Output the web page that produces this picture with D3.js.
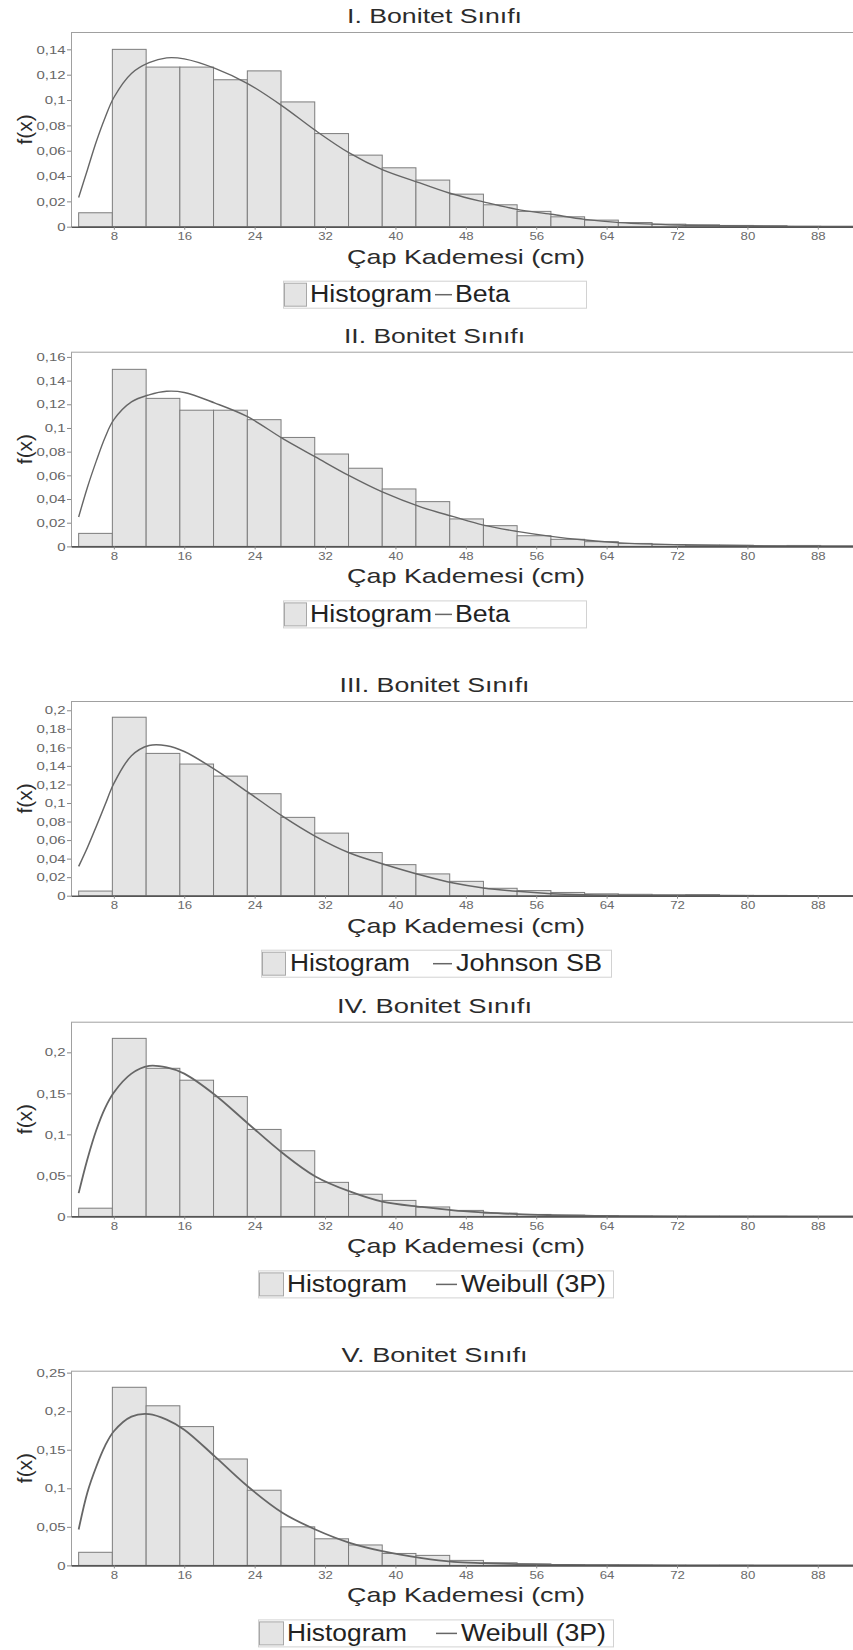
<!DOCTYPE html>
<html>
<head>
<meta charset="utf-8">
<script src="https://cdn.jsdelivr.net/npm/d3@7"></script>
<style>
  body { margin: 0; background: #fff; }
  svg { display: block; font-family: "Liberation Sans", Arial, sans-serif; }
</style>
</head>
<body>
<div id="chart"></div>
<script>
// Histogram class edges (cm), same for all five site classes
const binEdges = [4, 7.83, 11.67, 15.5, 19.33, 23.17, 27, 30.83, 34.67, 38.5, 42.33, 46.17,
  50, 53.83, 57.67, 61.5, 65.33, 69.17, 73, 76.83, 80.67, 84.5, 88.33, 92.17];

// Relative frequencies
const hist1 = [0.011, 0.140, 0.126, 0.126, 0.116, 0.123, 0.0985, 0.0735, 0.0565, 0.0465, 0.0368, 0.0257,
  0.0173, 0.0121, 0.0078, 0.0052, 0.0033, 0.002, 0.0015, 0.001, 0.0008, 0.0003, 0.0002];
const hist2 = [0.011, 0.1495, 0.125, 0.115, 0.115, 0.107, 0.092, 0.078, 0.066, 0.0485, 0.0378, 0.0232,
  0.0175, 0.009, 0.006, 0.004, 0.0025, 0.0015, 0.001, 0.001, 0.0006, 0.0008, 0.0004];
const hist3 = [0.005, 0.1925, 0.1535, 0.142, 0.129, 0.110, 0.0845, 0.0675, 0.0465, 0.0335, 0.0235, 0.0155,
  0.008, 0.0055, 0.0035, 0.002, 0.0015, 0.001, 0.0012, 0.0004, 0.0003, 0.0002, 0.0001];
const hist4 = [0.010, 0.217, 0.1805, 0.166, 0.146, 0.106, 0.080, 0.0415, 0.027, 0.0195, 0.0115, 0.0073,
  0.004, 0.0024, 0.0015, 0.001, 0.0005, 0.0003, 0.0002, 0.0001, 0.0001, 0, 0];
const hist5 = [0.017, 0.231, 0.207, 0.180, 0.138, 0.0975, 0.050, 0.0345, 0.0265, 0.0155, 0.013, 0.0065,
  0.0034, 0.002, 0.001, 0.0006, 0.0004, 0.0002, 0.0001, 0.0001, 0, 0, 0];

// Fitted density, sampled at these diameters
const curveX = [4, 5, 6, 7, 8, 10, 12, 14, 16, 19.5, 23.2, 27.2, 30.9, 34.8, 38.5, 43, 46.6, 50,
  53.8, 57.7, 61.5, 65.5, 72.3, 80.6, 92];
const curve1 = [0.023, 0.045, 0.067, 0.086, 0.102, 0.121, 0.1295, 0.1333, 0.1325, 0.125, 0.113, 0.095,
  0.076, 0.058, 0.045, 0.034, 0.0256, 0.0196, 0.0137, 0.0098, 0.0058, 0.0032, 0.0013, 0.0005, 0.0001];
const curve2 = [0.0248, 0.050, 0.072, 0.092, 0.107, 0.122, 0.128, 0.131, 0.130, 0.121, 0.1095, 0.091,
  0.0756, 0.0595, 0.046, 0.033, 0.0251, 0.018, 0.0127, 0.0085, 0.0054, 0.003, 0.0014, 0.0005, 0.0001];
const curve3 = [0.0316, 0.052, 0.0747, 0.098, 0.121, 0.151, 0.162, 0.1618, 0.1555, 0.136, 0.112, 0.0855,
  0.064, 0.046, 0.0345, 0.022, 0.0136, 0.0083, 0.0047, 0.0022, 0.001, 0.0004, 0.0001, 0, 0];
const curve4 = [0.0284, 0.070, 0.105, 0.132, 0.151, 0.174, 0.1834, 0.1815, 0.174, 0.148, 0.1136, 0.077,
  0.0487, 0.0304, 0.018, 0.0115, 0.0073, 0.0049, 0.0028, 0.0016, 0.0008, 0.0004, 0.0001, 0, 0];
const curve5 = [0.0466, 0.095, 0.128, 0.155, 0.174, 0.193, 0.1962, 0.189, 0.176, 0.141, 0.1026, 0.068,
  0.0466, 0.0293, 0.0185, 0.0095, 0.0047, 0.003, 0.0017, 0.0008, 0.0004, 0.0002, 0.0001, 0, 0];

const titles = ["I. Bonitet Sınıfı", "II. Bonitet Sınıfı", "III. Bonitet Sınıfı",
  "IV. Bonitet Sınıfı", "V. Bonitet Sınıfı"];
const fitNames = ["Beta", "Beta", "Johnson SB", "Weibull (3P)", "Weibull (3P)"];

const xTicks = [8, 16, 24, 32, 40, 48, 56, 64, 72, 80, 88];
const xTickLabels = ["8", "16", "24", "32", "40", "48", "56", "64", "72", "80", "88"];
const yTicks1 = [0, 0.02, 0.04, 0.06, 0.08, 0.1, 0.12, 0.14];
const yLabels1 = ["0", "0,02", "0,04", "0,06", "0,08", "0,1", "0,12", "0,14"];
const yTicks2 = [0, 0.02, 0.04, 0.06, 0.08, 0.1, 0.12, 0.14, 0.16];
const yLabels2 = ["0", "0,02", "0,04", "0,06", "0,08", "0,1", "0,12", "0,14", "0,16"];
const yTicks3 = [0, 0.02, 0.04, 0.06, 0.08, 0.1, 0.12, 0.14, 0.16, 0.18, 0.2];
const yLabels3 = ["0", "0,02", "0,04", "0,06", "0,08", "0,1", "0,12", "0,14", "0,16", "0,18", "0,2"];
const yTicks4 = [0, 0.05, 0.1, 0.15, 0.2];
const yLabels4 = ["0", "0,05", "0,1", "0,15", "0,2"];
const yTicks5 = [0, 0.05, 0.1, 0.15, 0.2, 0.25];
const yLabels5 = ["0", "0,05", "0,1", "0,15", "0,2", "0,25"];
const yMax = [0.1537, 0.1644, 0.21, 0.2373, 0.2525];

// ---- layout (pixels) ----
const width = 853, height = 1650;
const plotLeft = 71, plotRight = 853;
const plotTop = [32, 351.7, 701, 1021.7, 1370.7];
const plotH = 194.7;
const titleW = [175, 181, 190, 195, 186];
// legend geometry: box x / width, swatch, "Histogram", dash, fit name
const legend = [
  { bx: 283, bw: 303, sx: 284, sw: 22, hx: 310, hw: 122, d1: 435, d2: 452, lx: 455, lw: 55 },
  { bx: 283, bw: 303, sx: 284, sw: 22, hx: 310, hw: 122, d1: 435, d2: 452, lx: 455, lw: 55 },
  { bx: 261, bw: 350, sx: 262, sw: 23, hx: 290, hw: 120, d1: 433, d2: 452, lx: 456, lw: 146 },
  { bx: 258, bw: 355, sx: 259, sw: 24, hx: 287, hw: 120, d1: 436, d2: 457, lx: 461, lw: 145 },
  { bx: 258, bw: 355, sx: 259, sw: 24, hx: 287, hw: 120, d1: 436, d2: 457, lx: 461, lw: 145 }
];
const lineW = [1.4, 1.4, 1.5, 1.8, 1.8];

const panels = [
  { hist: hist1, curve: curve1, ticks: yTicks1, labels: yLabels1 },
  { hist: hist2, curve: curve2, ticks: yTicks2, labels: yLabels2 },
  { hist: hist3, curve: curve3, ticks: yTicks3, labels: yLabels3 },
  { hist: hist4, curve: curve4, ticks: yTicks4, labels: yLabels4 },
  { hist: hist5, curve: curve5, ticks: yTicks5, labels: yLabels5 }
];

const svg = d3.select("#chart").append("svg")
  .attr("width", width)
  .attr("height", height);

// stretch text horizontally (the original glyphs are wide)
function stretch(sel, k) {
  sel.each(function () {
    const w = this.getComputedTextLength();
    d3.select(this).attr("textLength", w * k).attr("lengthAdjust", "spacingAndGlyphs");
  });
}

const x = d3.scaleLinear().domain([3.13, 92]).range([plotLeft, plotRight]);

panels.forEach((p, i) => {
  const top = plotTop[i];
  const bottom = top + plotH;
  const y = d3.scaleLinear().domain([0, yMax[i]]).range([bottom, top]);
  const g = svg.append("g");

  // frame top line
  g.append("line")
    .attr("x1", plotLeft).attr("x2", plotRight)
    .attr("y1", top + 0.5).attr("y2", top + 0.5)
    .attr("stroke", "#a0a0a0");

  // histogram bars
  const bins = p.hist.map((v, j) => ({ x0: binEdges[j], x1: binEdges[j + 1], v: v }));
  g.append("g").selectAll("rect")
    .data(bins)
    .join("rect")
    .attr("x", d => x(d.x0))
    .attr("width", d => x(d.x1) - x(d.x0))
    .attr("y", d => y(d.v))
    .attr("height", d => y(0) - y(d.v))
    .attr("fill", "#e4e4e4")
    .attr("stroke", "#7c7c7c")
    .attr("stroke-width", 1);

  // fitted density
  const line = d3.line()
    .x((d, j) => x(curveX[j]))
    .y(d => y(Math.max(0, d)))
    .curve(d3.curveCatmullRom.alpha(0.5));
  g.append("path")
    .datum(p.curve)
    .attr("d", line)
    .attr("fill", "none")
    .attr("stroke", "#666")
    .attr("stroke-width", lineW[i]);

  // y axis
  const yAxis = g.append("g")
    .attr("transform", `translate(${plotLeft},0)`)
    .call(d3.axisLeft(y)
      .tickValues(p.ticks)
      .tickFormat((d, k) => p.labels[k])
      .tickSize(4)
      .tickSizeOuter(0)
      .tickPadding(1.5));
  yAxis.select(".domain").attr("stroke", "#a0a0a0");
  yAxis.selectAll(".tick line").attr("stroke", "#888");
  yAxis.selectAll(".tick text")
    .attr("fill", "#666")
    .attr("font-size", 11.5)
    .attr("font-family", "Liberation Sans, Arial, sans-serif")
    .call(stretch, 1.3);

  // x axis
  const xAxis = g.append("g")
    .attr("transform", `translate(0,${bottom})`)
    .call(d3.axisBottom(x)
      .tickValues(xTicks)
      .tickFormat((d, k) => xTickLabels[k])
      .tickSize(3)
      .tickSizeOuter(0)
      .tickPadding(2.5));
  xAxis.select(".domain").attr("stroke", "#555").attr("stroke-width", 1.6);
  xAxis.selectAll(".tick line").attr("stroke", "#888");
  xAxis.selectAll(".tick text")
    .attr("fill", "#6a6a6a")
    .attr("font-size", 11)
    .attr("font-family", "Liberation Sans, Arial, sans-serif")
    .call(stretch, 1.2);

  // title
  g.append("text")
    .attr("x", 434.5)
    .attr("y", top - 8.7)
    .attr("text-anchor", "middle")
    .attr("font-size", 20.5)
    .attr("fill", "#2b2b2b")
    .attr("textLength", titleW[i])
    .attr("lengthAdjust", "spacingAndGlyphs")
    .text(titles[i]);

  // axis titles
  g.append("text")
    .attr("x", 466)
    .attr("y", bottom + 37)
    .attr("text-anchor", "middle")
    .attr("font-size", 21)
    .attr("fill", "#2b2b2b")
    .attr("textLength", 238)
    .attr("lengthAdjust", "spacingAndGlyphs")
    .text("Çap Kademesi (cm)");

  g.append("text")
    .attr("transform", `translate(24,${(top + bottom) / 2}) rotate(-90)`)
    .attr("text-anchor", "middle")
    .attr("dominant-baseline", "central")
    .attr("font-size", 21)
    .attr("fill", "#2b2b2b")
    .text("f(x)");

  // legend
  const L = legend[i];
  const ly = bottom + 54;
  const lh = 27;
  g.append("rect")
    .attr("x", L.bx + 0.5).attr("y", ly + 0.5)
    .attr("width", L.bw).attr("height", lh)
    .attr("fill", "#fff")
    .attr("stroke", "#d2d2d2");
  g.append("rect")
    .attr("x", L.sx + 0.5).attr("y", ly + 2.5)
    .attr("width", L.sw).attr("height", lh - 4)
    .attr("fill", "#e4e4e4")
    .attr("stroke", "#a8a8a8");
  g.append("text")
    .attr("x", L.hx).attr("y", ly + 21.5)
    .attr("font-size", 23)
    .attr("fill", "#222")
    .attr("textLength", L.hw)
    .attr("lengthAdjust", "spacingAndGlyphs")
    .text("Histogram");
  g.append("line")
    .attr("x1", L.d1).attr("x2", L.d2)
    .attr("y1", ly + 14).attr("y2", ly + 14)
    .attr("stroke", "#666")
    .attr("stroke-width", 1.5);
  g.append("text")
    .attr("x", L.lx).attr("y", ly + 21.5)
    .attr("font-size", 23)
    .attr("fill", "#222")
    .attr("textLength", L.lw)
    .attr("lengthAdjust", "spacingAndGlyphs")
    .text(fitNames[i]);
});
</script>
</body>
</html>
